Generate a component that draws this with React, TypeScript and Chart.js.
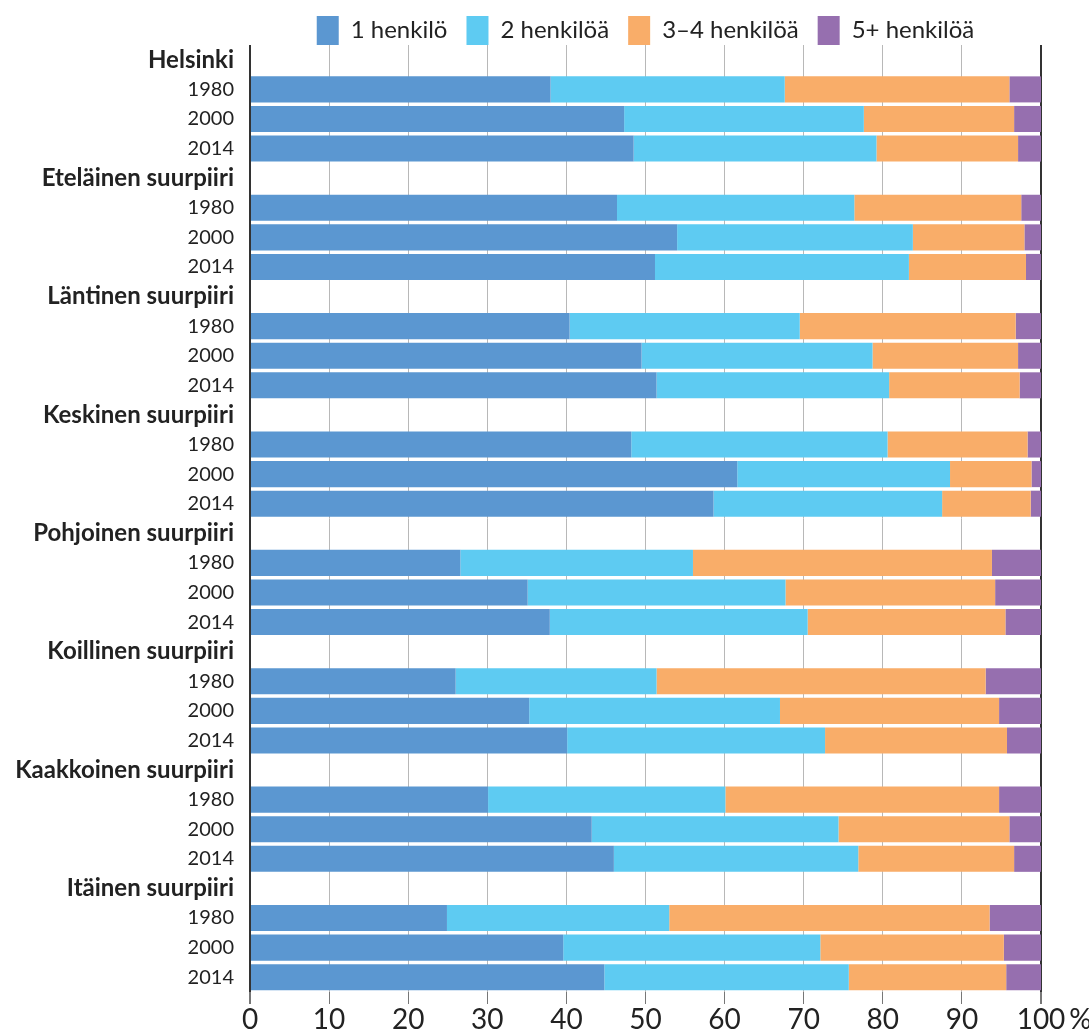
import React, { useEffect, useRef } from "react";
import { Chart, registerables } from "chart.js";

Chart.register(...registerables);

const categories = [
  "Helsinki", "1980", "2000", "2014",
  "Eteläinen suurpiiri", "1980", "2000", "2014",
  "Läntinen suurpiiri", "1980", "2000", "2014",
  "Keskinen suurpiiri", "1980", "2000", "2014",
  "Pohjoinen suurpiiri", "1980", "2000", "2014",
  "Koillinen suurpiiri", "1980", "2000", "2014",
  "Kaakkoinen suurpiiri", "1980", "2000", "2014",
  "Itäinen suurpiiri", "1980", "2000", "2014",
];

const seriesNames = ["1 henkilö", "2 henkilöä", "3–4 henkilöä", "5+ henkilöä"];

const onePerson = [null, 38.0, 47.3, 48.5, null, 46.4, 54.0, 51.2, null, 40.4, 49.5, 51.4, null, 48.2, 61.6, 58.6, null, 26.6, 35.1, 37.9, null, 26.0, 35.3, 40.1, null, 30.1, 43.2, 46.0, null, 24.9, 39.6, 44.8];
const twoPersons = [null, 29.6, 30.3, 30.7, null, 30.0, 29.8, 32.1, null, 29.1, 29.2, 29.4, null, 32.4, 26.9, 28.9, null, 29.4, 32.6, 32.6, null, 25.4, 31.7, 32.6, null, 30.0, 31.2, 30.9, null, 28.1, 32.5, 30.9];
const threeFourPersons = [null, 28.4, 19.0, 17.9, null, 21.1, 14.1, 14.8, null, 27.3, 18.4, 16.5, null, 17.7, 10.3, 11.2, null, 37.8, 26.5, 25.0, null, 41.6, 27.7, 23.0, null, 34.6, 21.6, 19.7, null, 40.5, 23.2, 19.9];
const fivePlusPersons = [null, 4.0, 3.4, 2.9, null, 2.5, 2.1, 1.9, null, 3.2, 2.9, 2.7, null, 1.7, 1.2, 1.3, null, 6.2, 5.8, 4.5, null, 7.0, 5.3, 4.3, null, 5.3, 4.0, 3.4, null, 6.5, 4.7, 4.4];

const xMin = 0;
const xMax = 100;
const xStep = 10;
const unitLabel = "%";

const colors = ["#5b97d1", "#5ecbf2", "#f9ad69", "#966faf"];
const FONT = "Lato, 'Noto Sans', sans-serif";
const TEXT = "#222222";

const adjustPlugin = {
  id: "adjust",
  afterLayout(chart: any) {
    const lg = chart.legend;
    const ca = chart.chartArea;
    if (lg) {
      const dx = (ca.left + ca.right) / 2 - (lg.left + lg.right) / 2;
      lg.left += dx;
      lg.right += dx;
      lg.top += 10;
      lg.bottom += 10;
    }
  },
  afterDraw(chart: any) {
    const x = chart.scales.x;
    const ctx = chart.ctx;
    ctx.save();
    ctx.font = `normal 28px ${FONT}`;
    ctx.fillStyle = TEXT;
    const w = ctx.measureText(String(xMax)).width;
    ctx.textAlign = "left";
    ctx.textBaseline = "middle";
    const px = x.getPixelForValue(xMax);
    const labelY = x.top + 12 + 2 + 14;
    ctx.fillText(unitLabel, px + w / 2 + 4, labelY);
    ctx.restore();
  },
};

export default function App() {
  const ref = useRef<HTMLCanvasElement | null>(null);

  useEffect(() => {
    if (!ref.current) return;
    const series = [onePerson, twoPersons, threeFourPersons, fivePlusPersons];
    const chart = new Chart(ref.current, {
      type: "bar",
      data: {
        labels: categories,
        datasets: series.map((d, i) => ({
          label: seriesNames[i],
          data: d,
          backgroundColor: colors[i],
          borderWidth: 0,
          categoryPercentage: 1,
          barPercentage: 0.88,
        })),
      },
      plugins: [adjustPlugin],
      options: {
        indexAxis: "y",
        responsive: false,
        animation: false,
        events: [],
        layout: { padding: { top: -13, right: 48, left: 0, bottom: 0 } },
        plugins: {
          tooltip: { enabled: false },
          legend: {
            position: "top",
            labels: {
              boxWidth: 22,
              boxHeight: 29,
              padding: 19,
              color: TEXT,
              font: { family: FONT, size: 24 },
            },
          },
        },
        scales: {
          x: {
            stacked: true,
            min: xMin,
            max: xMax,
            ticks: {
              stepSize: xStep,
              color: TEXT,
              padding: 2,
              font: { family: FONT, size: 28, lineHeight: 1 },
              maxRotation: 0,
              autoSkip: false,
              callback: (v: any) => String(v),
            },
            grid: {
              color: (c: any) =>
                c.tick && (c.tick.value === xMin || c.tick.value === xMax) ? "#333333" : "#b8b8b8",
              lineWidth: (c: any) =>
                c.tick && (c.tick.value === xMin || c.tick.value === xMax) ? 2 : 1,
              tickColor: "#777777",
              tickLength: 12,
            },
            border: { display: false },
            afterFit: (s: any) => {
              s.height = 38;
            },
          },
          y: {
            stacked: true,
            grid: { display: false, drawTicks: false },
            border: { display: false },
            ticks: {
              color: TEXT,
              padding: 16,
              autoSkip: false,
              font: (c: any) =>
                c.index % 4 === 0
                  ? { family: FONT, size: 24, weight: "bold" }
                  : { family: FONT, size: 20, weight: "normal" },
            },
            afterFit: (s: any) => {
              s.width = 250;
            },
          },
        },
      },
    } as any);
    return () => chart.destroy();
  }, []);

  return (
    <div style={{ position: "fixed", left: 0, top: 0, width: 1089, height: 1030, background: "#fff" }}>
      <canvas ref={ref} width={1089} height={1030} style={{ display: "block" }} />
    </div>
  );
}
